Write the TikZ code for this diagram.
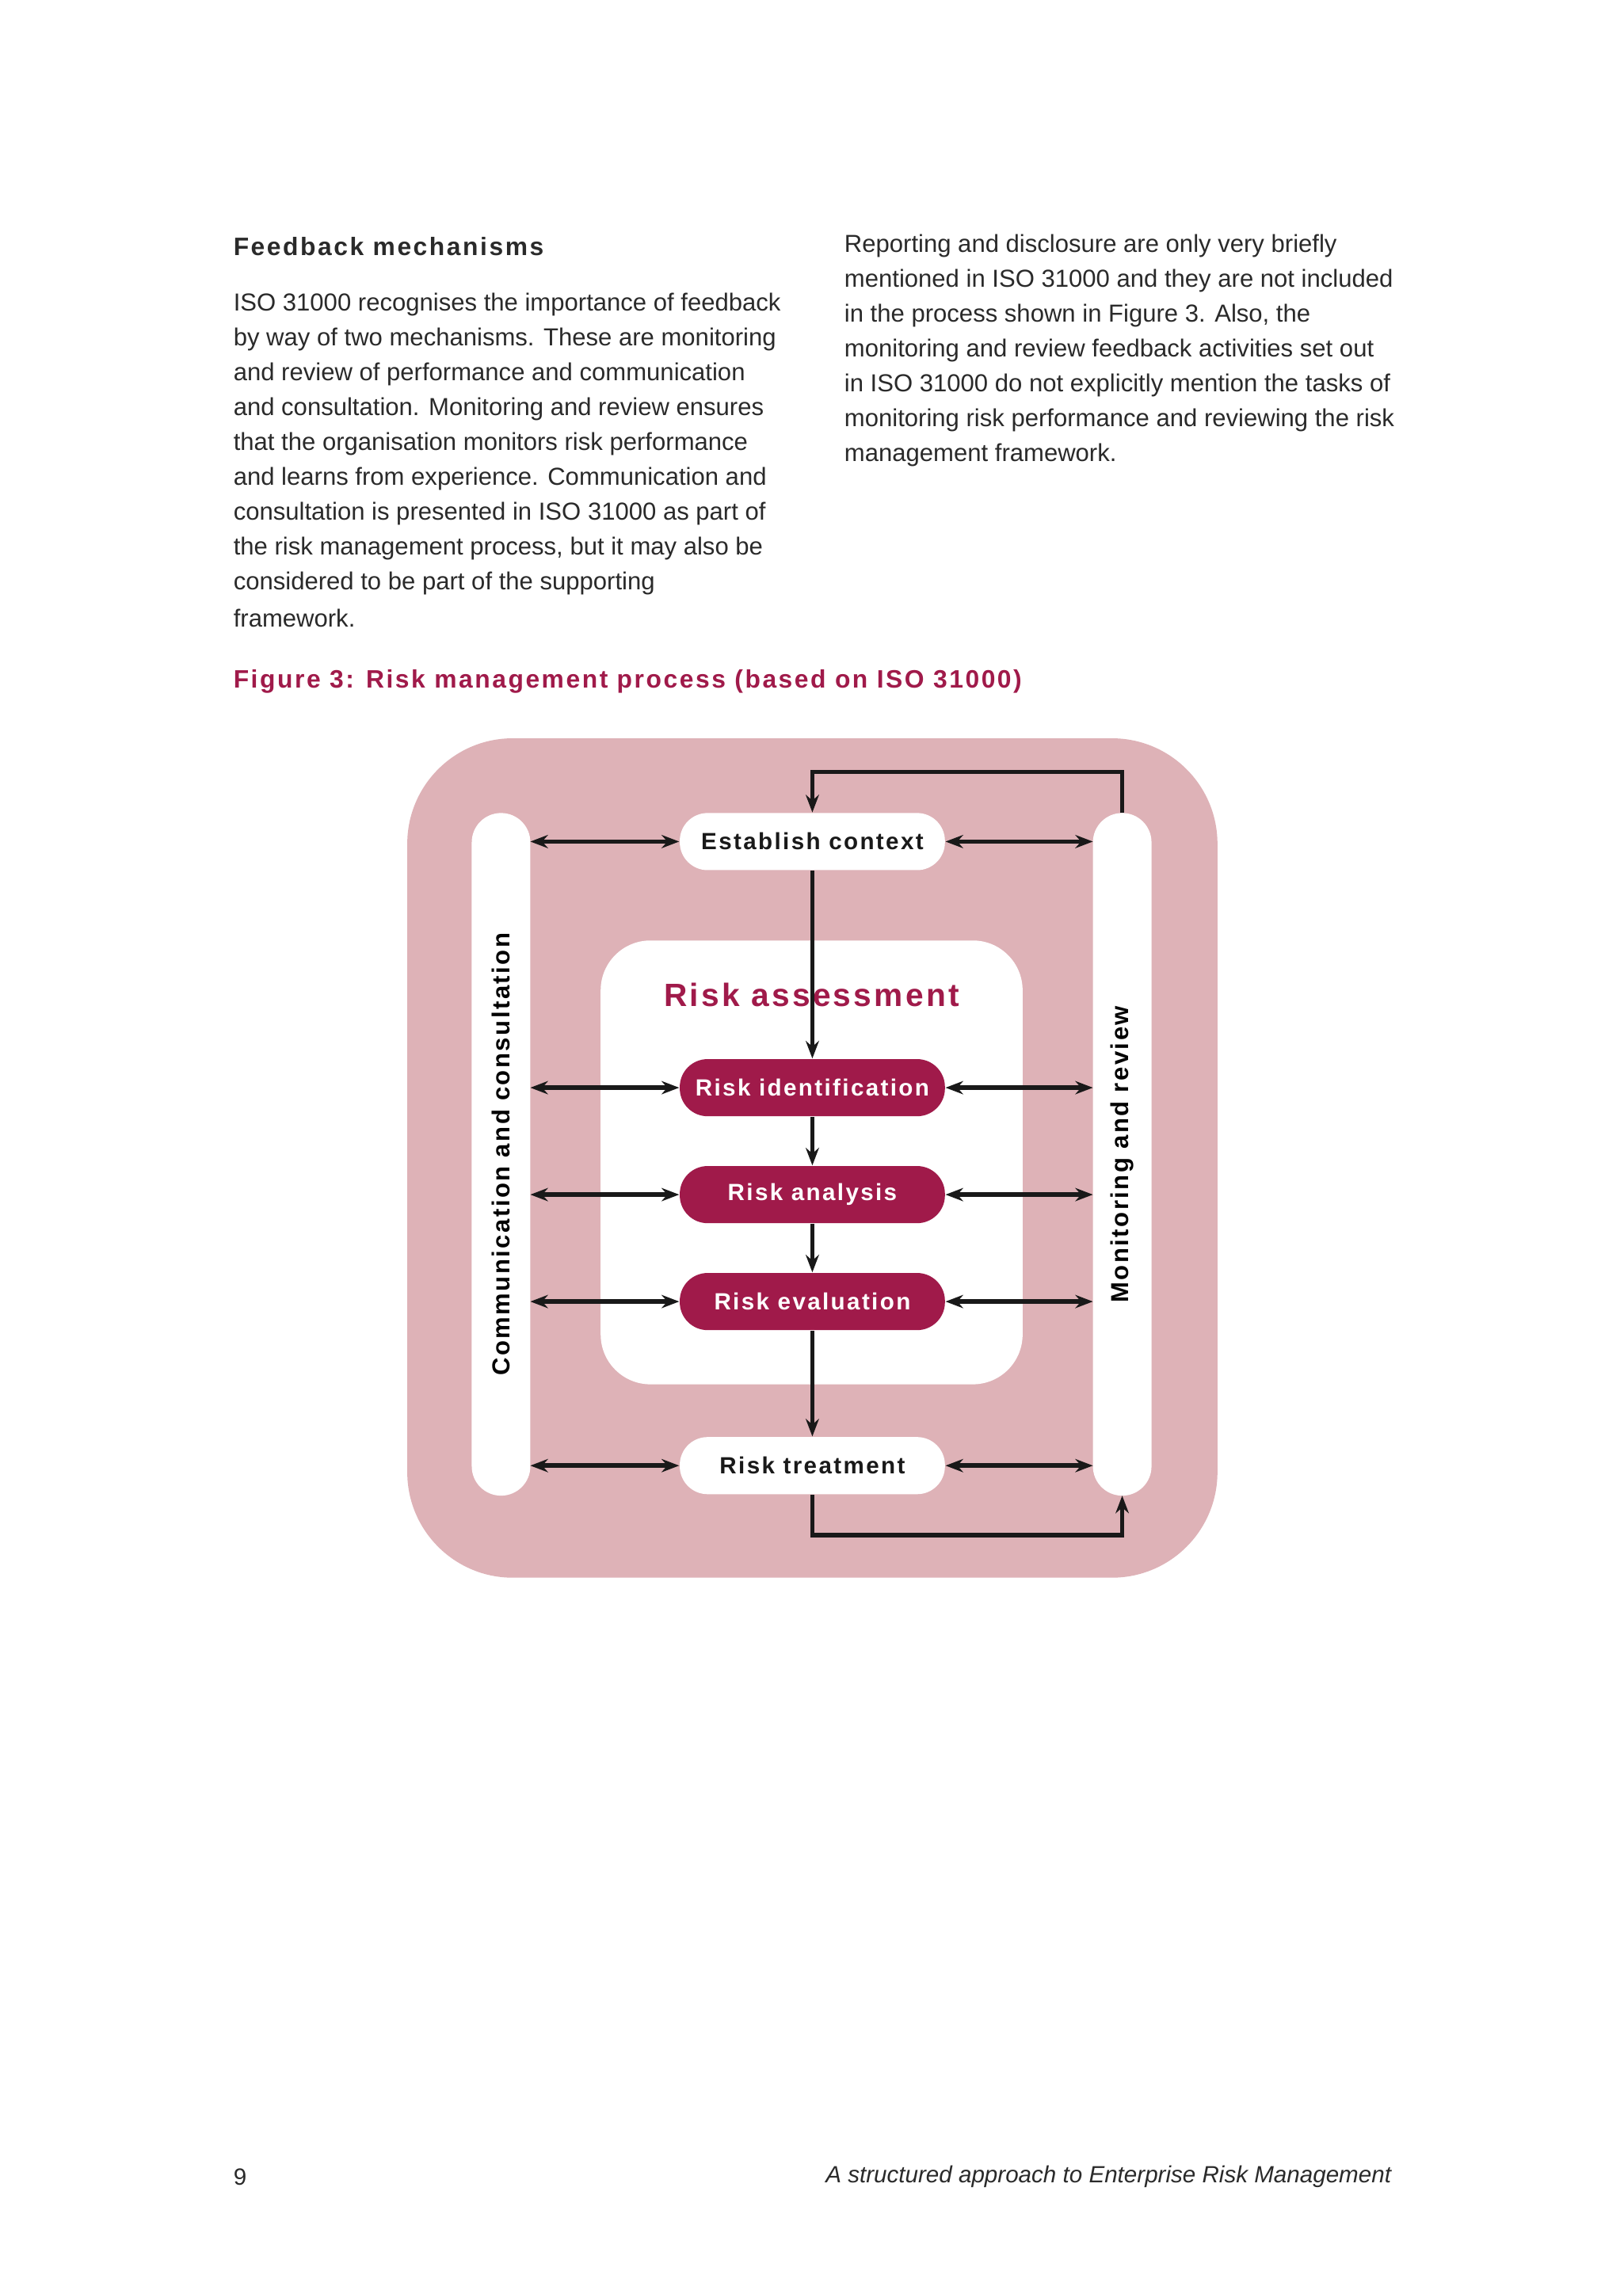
\documentclass[tikz,border=0pt]{standalone}
\usepackage{fontspec}
\setmainfont{Liberation Sans}
\newfontfamily\headf[LetterSpace=8]{Liberation Sans}
\usetikzlibrary{arrows.meta}
\definecolor{crim}{HTML}{A01A4A}
\definecolor{pinkbg}{HTML}{DEB2B7}
\definecolor{txt}{HTML}{2A2A2A}
\begin{document}
\begin{tikzpicture}[x=0.5pt,y=-0.5pt,
  body/.style={anchor=west,inner sep=0,font=\fontsize{8.4}{10}\selectfont,text=txt},
  pillw/.style={fill=white,rounded corners=9.5pt,minimum width=90.5pt,minimum height=19.5pt,inner sep=0,font=\headf\fontsize{8}{10}\selectfont\bfseries,text=black!90},
  pillr/.style={pillw,fill=crim,text=white},
  con/.style={line width=1.5pt,black!90},
  arr/.style={con,-{Stealth[length=6pt,width=4.5pt]}},
  darr/.style={con,{Stealth[length=6pt,width=4.5pt]}-{Stealth[length=6pt,width=4.5pt]}}]
\useasboundingbox[fill=white] (0,0) rectangle (1108,1566);
\node[body,font=\headf\fontsize{8.6}{10}\selectfont\bfseries] (h) at (159,168) {Feedback mechanisms};
\foreach \t [count=\i from 0] in {ISO 31000 recognises the importance of feedback,by way of two mechanisms. These are monitoring,and review of performance and communication,and consultation. Monitoring and review ensures,that the organisation monitors risk performance,and learns from experience. Communication and,consultation is presented in ISO 31000 as part of,{the risk management process, but it may also be},considered to be part of the supporting,framework.}
  \node[body] (l\i) at (159,{208+23.75*\i}) {\t};
\foreach \t [count=\i from 0] in {Reporting and disclosure are only very briefly,mentioned in ISO 31000 and they are not included,{in the process shown in Figure 3. Also, the},monitoring and review feedback activities set out,in ISO 31000 do not explicitly mention the tasks of,monitoring risk performance and reviewing the risk,management framework.}
  \node[body] (r\i) at (576,{168+23.75*\i}) {\t};
\node[body,text=crim,font=\headf\fontsize{8.6}{10}\selectfont\bfseries] (ft) at (159,465) {Figure 3: Risk management process (based on ISO 31000)};
% figure
\fill[pinkbg,rounded corners=36pt] (278,504) rectangle (831,1077);
\fill[white,rounded corners=10pt] (322,555) rectangle (362,1021);
\fill[white,rounded corners=10pt] (746,555) rectangle (786,1021);
\node[rotate=90,inner sep=0,font=\headf\fontsize{8.4}{10}\selectfont\bfseries] (cc) at (342,788) {Communication and consultation};
\node[rotate=90,inner sep=0,font=\headf\fontsize{8.4}{10}\selectfont\bfseries] (mr) at (766,788) {Monitoring and review};
\coordinate (Lx) at (362,0); \coordinate (Rx) at (746,0);
\fill[white,rounded corners=17pt] (410,642) rectangle (698,945);
\node[text=crim,font=\headf\fontsize{11}{13}\selectfont\bfseries] (ra) at (554,679) {Risk assessment};
\node[pillw] (ec) at (554.5,574.5) {Establish context};
\node[pillr] (ri) at (554.5,742.5) {Risk identification};
\node[pillr] (an) at (554.5,815.5) {Risk analysis};
\node[pillr] (ev) at (554.5,888.5) {Risk evaluation};
\node[pillw] (rt) at (554.5,1000.5) {Risk treatment};
\foreach \n in {ec,ri,an,ev,rt}{
  \draw[darr] (Lx |- \n.west) -- (\n.west);
  \draw[darr] (\n.east) -- (Rx |- \n.east);
}
\draw[arr] (ec.south) -- (ri.north);
\draw[arr] (ri.south) -- (an.north);
\draw[arr] (an.south) -- (ev.north);
\draw[arr] (ev.south) -- (rt.north);
\coordinate (mt) at (766,555); \coordinate (mb) at (766,1021);
\draw[arr] (mt) -- (766,527) -- (554.5,527) -- (ec.north);
\draw[arr] (rt.south) -- (554.5,1048) -- (766,1048) -- (mb);
\node[body,font=\fontsize{8}{10}\selectfont] (pn) at (159,1486) {9};
\node[anchor=east,inner sep=0,font=\fontsize{8}{10}\selectfont\itshape,text=txt] (fo) at (950,1486) {A structured approach to Enterprise Risk Management};
\end{tikzpicture}
\end{document}
